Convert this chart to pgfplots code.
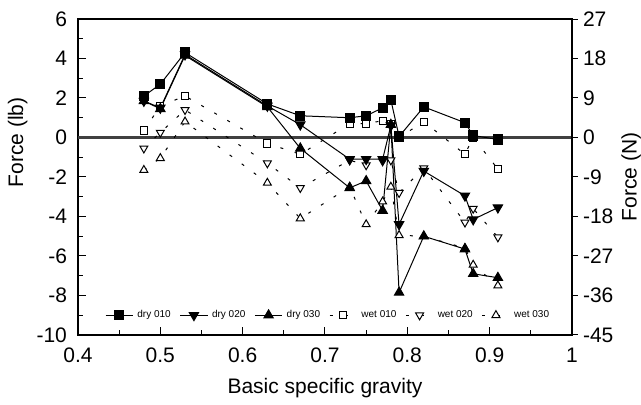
\documentclass[border=0pt]{standalone}
\usepackage{fontspec}
\setmainfont{Liberation Sans}
\usepackage{pgfplots}
\pgfplotsset{compat=1.18}

\pgfplotsset{
  dry/.style={black, line width=0.5pt, solid},
  wet/.style={black, line width=0.5pt, dash pattern=on 1.5pt off 6pt},
  mA/.style={mark=square*, mark size=2.3pt, mark options={solid, fill=black}},
  mB/.style={mark=triangle*, mark size=2.7pt, mark options={solid, fill=black, rotate=180}},
  mC/.style={mark=triangle*, mark size=2.7pt, mark options={solid, fill=black}},
  mD/.style={mark=square*, mark size=1.8pt, mark options={solid, fill=white, line width=0.5pt}},
  mE/.style={mark=triangle*, mark size=2.3pt, mark options={solid, fill=white, rotate=180, line width=0.5pt}},
  mF/.style={mark=triangle*, mark size=2.3pt, mark options={solid, fill=white, line width=0.5pt}},
}

\begin{document}
\begin{tikzpicture}
\begin{axis}[
    scale only axis,
    width=247pt, height=158pt,
    xmin=0.4, xmax=1.0,
    ymin=-10, ymax=6,
    xtick={0.4,0.5,0.6,0.7,0.8,0.9,1.0},
    ytick={-10,-8,-6,-4,-2,0,2,4,6},
    minor x tick num=1,
    minor y tick num=1,
    xtick pos=bottom, ytick pos=left,
    tick align=inside,
    major tick length=4pt, minor tick length=2.5pt,
    axis line style={line width=0.6pt},
    tick style={line width=0.5pt, black},
    /pgf/number format/assume math mode=true,
    ticklabel style={font=\fontsize{10.5}{12}\selectfont},
    xticklabel style={yshift=-3pt},
    yticklabel style={xshift=-2pt},
    legend style={at={(axis cs:0.705,-9)}, anchor=center, draw=none, fill=none,
      font=\fontsize{5}{6}\selectfont, legend columns=6,
      /tikz/every even column/.append style={column sep=2.5pt}},
    legend image code/.code={\draw[mark repeat=2, mark phase=2, #1]
      plot coordinates {(0cm,0cm) (0.24cm,0cm) (0.48cm,0cm)};},
    clip=false,
]
\addlegendimage{dry, mA}\addlegendentry{dry 010}
\addlegendimage{dry, mB}\addlegendentry{dry 020}
\addlegendimage{dry, mC}\addlegendentry{dry 030}
\addlegendimage{wet, mD}\addlegendentry{wet 010}
\addlegendimage{wet, mE}\addlegendentry{wet 020}
\addlegendimage{wet, mF}\addlegendentry{wet 030}

% zero line
\addplot[black!75, line width=1.1pt, forget plot] coordinates {(0.4,0) (1.0,0)};

% wet series
\addplot[wet, mD, forget plot] coordinates {
(0.48,0.35) (0.50,1.6) (0.53,2.1) (0.63,-0.3) (0.67,-0.85) (0.73,0.7) (0.75,0.7)
(0.77,0.85) (0.78,0.7) (0.79,0.0) (0.82,0.8) (0.87,-0.85) (0.88,0.0) (0.91,-1.6)};
\addplot[wet, mE, forget plot] coordinates {
(0.48,-0.55) (0.50,0.25) (0.53,1.4) (0.63,-1.3) (0.67,-2.55) (0.73,-1.15) (0.75,-1.4)
(0.77,-1.2) (0.78,-1.15) (0.79,-2.8) (0.82,-1.55) (0.87,-4.3) (0.88,-3.6) (0.91,-5.05)};
\addplot[wet, mF, forget plot] coordinates {
(0.48,-1.65) (0.50,-1.05) (0.53,0.8) (0.63,-2.3) (0.67,-4.1) (0.73,-2.5) (0.75,-4.4)
(0.77,-3.25) (0.78,-2.5) (0.79,-4.95) (0.82,-5.0) (0.87,-5.6) (0.88,-6.45) (0.91,-7.5)};

% dry series
\addplot[dry, mC, forget plot] coordinates {
(0.48,1.85) (0.50,1.45) (0.53,4.15) (0.63,1.55) (0.67,-0.55) (0.73,-2.55) (0.75,-2.2)
(0.77,-3.7) (0.78,0.65) (0.79,-7.85) (0.82,-5.0) (0.87,-5.65) (0.88,-6.9) (0.91,-7.1)};
\addplot[dry, mB, forget plot] coordinates {
(0.48,1.85) (0.50,1.5) (0.53,4.2) (0.63,1.6) (0.67,0.65) (0.73,-1.1) (0.75,-1.1)
(0.77,-1.1) (0.78,0.6) (0.79,-4.4) (0.82,-1.7) (0.87,-2.95) (0.88,-4.15) (0.91,-3.55)};
\addplot[dry, mA, forget plot] coordinates {
(0.48,2.1) (0.50,2.7) (0.53,4.3) (0.63,1.7) (0.67,1.1) (0.73,1.0) (0.75,1.1)
(0.77,1.5) (0.78,1.9) (0.79,0.05) (0.82,1.55) (0.87,0.75) (0.88,0.1) (0.91,-0.1)};

\node[rotate=90, font=\fontsize{10.5}{12}\selectfont] at (rel axis cs:-0.122,0.61) {Force (lb)};
\node[font=\fontsize{10.5}{12}\selectfont] at (rel axis cs:0.5,-0.168) {Basic specific gravity};
\node[rotate=90, font=\fontsize{10.5}{12}\selectfont] at (rel axis cs:1.12,0.5) {Force (N)};
\end{axis}

\begin{axis}[
    scale only axis,
    width=247pt, height=158pt,
    xmin=0.4, xmax=1.0,
    ymin=-45, ymax=27,
    ytick={-45,-36,-27,-18,-9,0,9,18,27},
    axis x line=none,
    axis y line*=right,
    tick align=outside,
    major tick length=3pt,
    axis line style={line width=0.6pt, -},
    tick style={line width=0.5pt, black},
    /pgf/number format/assume math mode=true,
    ticklabel style={font=\fontsize{10.5}{12}\selectfont},
    yticklabel style={xshift=-1pt},
]
\end{axis}
\pgfresetboundingbox
\path[use as bounding box] (-39pt,-35pt) rectangle (281.5pt,167.5pt);
\end{tikzpicture}
\end{document}
